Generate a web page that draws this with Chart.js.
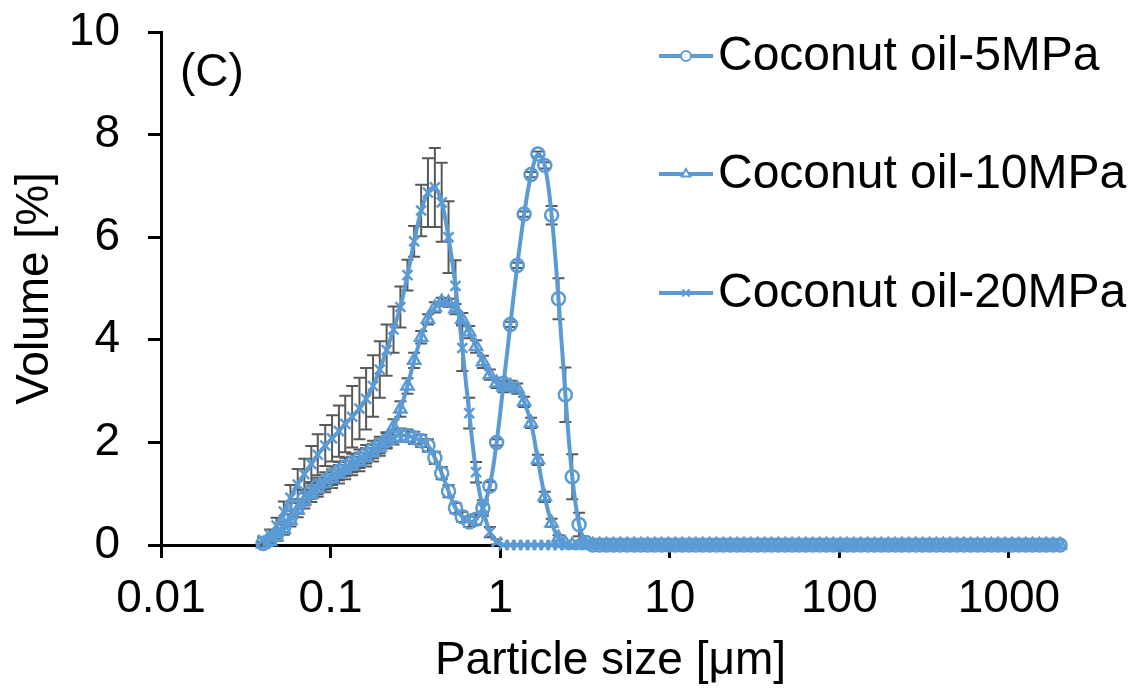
<!DOCTYPE html>
<html>
<head>
<meta charset="utf-8">
<script src="https://cdn.jsdelivr.net/npm/chart.js@4/dist/chart.umd.min.js"></script>
<style>
  html, body { margin: 0; padding: 0; background: #fff; }
  canvas { display: block; }
</style>
</head>
<body>
<canvas id="myChart" width="1136" height="693"></canvas>
<script>
// particle size channels [um]
const sizes = [
  0.04, 0.044, 0.048, 0.053, 0.058, 0.064, 0.07, 0.077, 0.084, 0.093,
  0.102, 0.112, 0.122, 0.134, 0.148, 0.162, 0.178, 0.195, 0.214, 0.235,
  0.258, 0.284, 0.311, 0.342, 0.375, 0.412, 0.452, 0.496, 0.545, 0.598,
  0.657, 0.721, 0.791, 0.869, 0.953, 1.047, 1.149, 1.261, 1.385, 1.52,
  1.669, 1.832, 2.01, 2.207, 2.423, 2.66, 2.92, 3.206, 3.519, 3.863,
  4.241, 4.656, 5.111, 5.611, 6.159, 6.761, 7.422, 8.148, 8.944, 9.819,
  10.78, 11.83, 12.99, 14.26, 15.65, 17.18, 18.86, 20.71, 22.73, 24.95,
  27.39, 30.07, 33.01, 36.24, 39.78, 43.67, 47.94, 52.62, 57.77, 63.41,
  69.61, 76.42, 83.89, 92.09, 101.1, 111, 121.8, 133.7, 146.8, 161.2,
  176.9, 194.2, 213.2, 234, 256.9, 282.1, 309.6, 339.9, 373.1, 409.6,
  449.7, 493.6, 541.9, 594.9, 653, 716.9, 786.9, 863.9, 948.3, 1041,
  1143, 1255, 1377, 1512, 1660, 1822, 2000
];

// volume [%]
const oil5 = [
  0.03, 0.1, 0.2, 0.35, 0.55, 0.75, 0.92, 1.05, 1.15, 1.25,
  1.35, 1.44, 1.52, 1.6, 1.68, 1.77, 1.86, 1.95, 2.03, 2.1,
  2.14, 2.13, 2.09, 2.03, 1.94, 1.7, 1.4, 1.05, 0.72, 0.55,
  0.45, 0.5, 0.72, 1.15, 2.0, 3.15, 4.3, 5.45, 6.45, 7.22,
  7.62, 7.4, 6.43, 4.8, 2.93, 1.33, 0.4, 0.05, 0, 0,
  0, 0, 0, 0, 0, 0, 0, 0, 0, 0,
  0, 0, 0, 0, 0, 0, 0, 0, 0, 0,
  0, 0, 0, 0, 0, 0, 0, 0, 0, 0,
  0, 0, 0, 0, 0, 0, 0, 0, 0, 0,
  0, 0, 0, 0, 0, 0, 0, 0, 0, 0,
  0, 0, 0, 0, 0, 0, 0, 0, 0, 0,
  0, 0, 0, 0, 0, 0, 0
];
const oil10 = [
  0.02, 0.07, 0.16, 0.3, 0.48, 0.68, 0.86, 0.99, 1.1, 1.2,
  1.29, 1.38, 1.46, 1.54, 1.62, 1.71, 1.8, 1.9, 2.05, 2.3,
  2.65, 3.1, 3.6, 4.05, 4.4, 4.63, 4.74, 4.72, 4.6, 4.4,
  4.15, 3.87, 3.57, 3.32, 3.16, 3.08, 3.1, 3.05, 2.79, 2.38,
  1.66, 0.94, 0.43, 0.14, 0.03, 0, 0, 0, 0, 0,
  0, 0, 0, 0, 0, 0, 0, 0, 0, 0,
  0, 0, 0, 0, 0, 0, 0, 0, 0, 0,
  0, 0, 0, 0, 0, 0, 0, 0, 0, 0,
  0, 0, 0, 0, 0, 0, 0, 0, 0, 0,
  0, 0, 0, 0, 0, 0, 0, 0, 0, 0,
  0, 0, 0, 0, 0, 0, 0, 0, 0, 0,
  0, 0, 0, 0, 0, 0, 0
];
const oil20 = [
  0.1, 0.2, 0.38, 0.65, 0.92, 1.18, 1.38, 1.58, 1.76, 1.94,
  2.08, 2.22, 2.36, 2.5, 2.66, 2.85, 3.1, 3.42, 3.8, 4.2,
  4.64, 5.26, 5.92, 6.52, 6.87, 6.97, 6.68, 6.0, 5.05, 3.84,
  2.57, 1.42, 0.72, 0.25, 0.06, 0, 0, 0, 0, 0,
  0, 0, 0, 0, 0, 0, 0, 0, 0, 0,
  0, 0, 0, 0, 0, 0, 0, 0, 0, 0,
  0, 0, 0, 0, 0, 0, 0, 0, 0, 0,
  0, 0, 0, 0, 0, 0, 0, 0, 0, 0,
  0, 0, 0, 0, 0, 0, 0, 0, 0, 0,
  0, 0, 0, 0, 0, 0, 0, 0, 0, 0,
  0, 0, 0, 0, 0, 0, 0, 0, 0, 0,
  0, 0, 0, 0, 0, 0, 0
];

// standard deviations (channels not listed are 0)
const err5 = [
  0.03, 0.05, 0.08, 0.1, 0.12, 0.14, 0.15, 0.15, 0.16, 0.17,
  0.18, 0.18, 0.18, 0.18, 0.18, 0.18, 0.17, 0.16, 0.15, 0.14,
  0.13, 0.12, 0.12, 0.12, 0.12, 0.12, 0.12, 0.12, 0.1, 0.1,
  0.1, 0.1, 0.1, 0.08, 0.06, 0.05, 0.05, 0.05, 0.05, 0.05,
  0.05, 0.06, 0.18, 0.4, 0.53, 0.44, 0.23, 0.05
];
const err10 = [
  0.03, 0.05, 0.08, 0.1, 0.12, 0.14, 0.15, 0.15, 0.16, 0.17,
  0.18, 0.18, 0.18, 0.18, 0.18, 0.18, 0.17, 0.16, 0.15, 0.15,
  0.15, 0.15, 0.15, 0.12, 0.1, 0.1, 0.08, 0.08, 0.1, 0.12,
  0.12, 0.12, 0.12, 0.1, 0.1, 0.1, 0.1, 0.1, 0.1, 0.1,
  0.1, 0.1, 0.08, 0.05, 0.02
];
const err20 = [
  0.05, 0.1, 0.15, 0.2, 0.25, 0.3, 0.3, 0.35, 0.4, 0.4,
  0.45, 0.5, 0.55, 0.6, 0.6, 0.6, 0.6, 0.55, 0.5, 0.45,
  0.4, 0.3, 0.3, 0.5, 0.67, 0.77, 0.77, 0.7, 0.5, 0.45,
  0.3, 0.2, 0.15, 0.1, 0.05
];

const seriesNames = ['Coconut oil-5MPa', 'Coconut oil-10MPa', 'Coconut oil-20MPa'];
const xTicks = [0.01, 0.1, 1, 10, 100, 1000];
const blue = '#5B9BD5';
const FONT = "'Liberation Sans', Arial, sans-serif";

function pts(vals) {
  return vals.map((v, i) => ({ x: sizes[i], y: v }));
}

function series(label, vals, err, style, radius) {
  return {
    label: label,
    data: pts(vals),
    errors: err,
    borderColor: blue,
    backgroundColor: 'rgba(0,0,0,0)',
    borderWidth: 4,
    tension: 0.35,
    pointStyle: style,
    pointRadius: radius,
    pointBorderWidth: 2.5,
    pointBorderColor: blue,
    pointBackgroundColor: 'rgba(0,0,0,0)',
    clip: false
  };
}

// error bars drawn through the y scale
const errorBars = {
  id: 'errorBars',
  beforeDatasetsDraw(chart) {
    const ctx = chart.ctx;
    const y = chart.scales.y;
    ctx.save();
    ctx.strokeStyle = '#595959';
    ctx.lineWidth = 2;
    chart.data.datasets.forEach((ds, di) => {
      const meta = chart.getDatasetMeta(di);
      meta.data.forEach((pt, j) => {
        const e = ds.errors[j] || 0;
        if (!e) return;
        const v = ds.data[j].y;
        const top = y.getPixelForValue(v + e);
        const bot = y.getPixelForValue(v - e);
        ctx.beginPath();
        ctx.moveTo(pt.x, top); ctx.lineTo(pt.x, bot);
        ctx.moveTo(pt.x - 6, top); ctx.lineTo(pt.x + 6, top);
        ctx.moveTo(pt.x - 6, bot); ctx.lineTo(pt.x + 6, bot);
        ctx.stroke();
      });
    });
    ctx.restore();
  }
};

// legend and panel letter
const legendRows = [56, 174, 293];
const sideLegend = {
  id: 'sideLegend',
  afterDraw(chart) {
    const ctx = chart.ctx;
    ctx.save();
    chart.data.datasets.forEach((ds, i) => {
      const yy = legendRows[i];
      ctx.strokeStyle = blue;
      ctx.lineWidth = 4;
      ctx.beginPath();
      ctx.moveTo(659, yy); ctx.lineTo(713, yy);
      ctx.stroke();
      ctx.fillStyle = '#fff';
      ctx.lineWidth = 2;
      Chart.helpers.drawPoint(ctx, {
        pointStyle: ds.pointStyle, radius: 5, borderWidth: 2, rotation: 0
      }, 686, yy);
      ctx.fillStyle = '#000';
      ctx.font = '48px ' + FONT;
      ctx.textAlign = 'left';
      ctx.textBaseline = 'middle';
      ctx.fillText(ds.label, 718, yy + 1);
    });
    ctx.font = '46px ' + FONT;
    ctx.fillStyle = '#000';
    ctx.textAlign = 'left';
    ctx.textBaseline = 'middle';
    ctx.fillText('(C)', 180, 73);
    ctx.restore();
  }
};

const ctx = document.getElementById('myChart').getContext('2d');
const myChart = new Chart(ctx, {
  type: 'line',
  data: {
    datasets: [
      series(seriesNames[0], oil5, err5, 'circle', 6.5),
      series(seriesNames[1], oil10, err10, 'triangle', 7),
      series(seriesNames[2], oil20, err20, 'crossRot', 7)
    ]
  },
  options: {
    responsive: false,
    animation: false,
    devicePixelRatio: 1,
    layout: { padding: { left: 0, top: 32, right: 76, bottom: 0 } },
    plugins: { legend: { display: false }, tooltip: { enabled: false } },
    scales: {
      x: {
        type: 'logarithmic',
        min: 0.01,
        max: 2000,
        afterBuildTicks: (s) => { s.ticks = xTicks.map(v => ({ value: v })); },
        afterFit: (s) => { s.height = 148; s.paddingLeft = 0; s.paddingRight = 0; },
        border: { display: true, color: '#000', width: 3 },
        grid: { drawOnChartArea: false, drawTicks: true, tickLength: 13, color: '#000', lineWidth: 3 },
        ticks: {
          color: '#000',
          font: { family: FONT, size: 46 },
          padding: 14,
          maxRotation: 0,
          autoSkip: false,
          callback: (v) => String(v)
        },
        title: {
          display: true,
          text: 'Particle size [μm]',
          color: '#000',
          font: { family: FONT, size: 46 },
          padding: { top: 0, bottom: 4 }
        }
      },
      y: {
        min: 0,
        max: 10,
        afterFit: (s) => { s.width = 161; s.paddingTop = 0; s.paddingBottom = 0; },
        border: { display: true, color: '#000', width: 3 },
        grid: { drawOnChartArea: false, drawTicks: true, tickLength: 13, color: '#000', lineWidth: 3 },
        ticks: {
          stepSize: 2,
          color: '#000',
          font: { family: FONT, size: 46 },
          padding: 28
        },
        title: {
          display: true,
          text: 'Volume [%]',
          color: '#000',
          font: { family: FONT, size: 46 },
          padding: { top: 8, bottom: 0 }
        }
      }
    }
  },
  plugins: [errorBars, sideLegend]
});
</script>
</body>
</html>
